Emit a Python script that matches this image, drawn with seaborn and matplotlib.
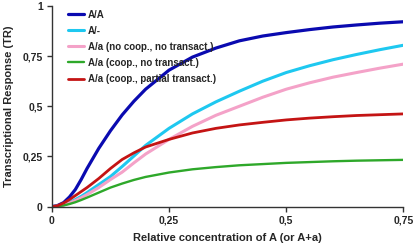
import matplotlib
matplotlib.use('Agg')
import matplotlib.pyplot as plt
from matplotlib.ticker import FixedLocator, FixedFormatter
import pandas as pd
import seaborn as sns

# Datos
# ------------------------

conc = [0, 0.0125, 0.025, 0.0375, 0.05, 0.0625, 0.075, 0.1, 0.125, 0.15, 0.175, 0.2, 0.25,
        0.3, 0.35, 0.4, 0.45, 0.5, 0.55, 0.6, 0.65, 0.7, 0.75]

tr_AA = [0, 0.006, 0.02, 0.048, 0.085, 0.135, 0.19, 0.29, 0.378, 0.457, 0.525, 0.585, 0.68,
         0.745, 0.79, 0.826, 0.85, 0.867, 0.882, 0.895, 0.905, 0.914, 0.921]
tr_Aminus = [0, 0.003, 0.01, 0.02, 0.035, 0.051, 0.07, 0.11, 0.15, 0.2, 0.252, 0.305, 0.39,
             0.462, 0.522, 0.575, 0.625, 0.668, 0.702, 0.732, 0.758, 0.782, 0.804]
tr_Aa_nocoop = [0, 0.002, 0.008, 0.018, 0.03, 0.044, 0.06, 0.095, 0.135, 0.172, 0.218, 0.262, 0.335,
                0.4, 0.455, 0.5, 0.545, 0.585, 0.617, 0.645, 0.668, 0.69, 0.71]
tr_Aa_coop = [0, 0.002, 0.006, 0.013, 0.022, 0.033, 0.045, 0.07, 0.095, 0.115, 0.133, 0.148, 0.17,
              0.186, 0.197, 0.206, 0.212, 0.218, 0.222, 0.226, 0.229, 0.231, 0.233]
tr_Aa_partial = [0, 0.005, 0.018, 0.035, 0.055, 0.075, 0.095, 0.14, 0.19, 0.235, 0.268, 0.297, 0.335,
                 0.367, 0.39, 0.407, 0.42, 0.432, 0.441, 0.448, 0.454, 0.458, 0.462]

etiquetas = ['A/A', 'A/-', 'A/a (no coop., no transact.)',
             'A/a (coop., no transact.)', 'A/a (coop., partial transact.)']
colores = ['#0a0ab0', '#1ec8f0', '#f4a2c8', '#2ea82a', '#c41414']
anchos = [2.3, 2.2, 2.2, 1.7, 2.0]

ticks_x = [0, 0.25, 0.5, 0.75]
ticks_x_txt = ['0', '0,25', '0,5', '0,75']
ticks_y = [0, 0.25, 0.5, 0.75, 1]
ticks_y_txt = ['0', '0,25', '0,5', '0,75', '1']

#%% GRAFICO
# = = = = =

sns.set_style('ticks')
plt.rcParams['font.family'] = ['Liberation Sans', 'DejaVu Sans']
plt.rcParams['font.weight'] = 'bold'

fig = plt.figure(figsize=(4.15, 2.46), dpi=100)
ax = fig.add_axes([0.125, 0.16, 0.847, 0.816])

series = [tr_AA, tr_Aminus, tr_Aa_nocoop, tr_Aa_coop, tr_Aa_partial]
for valores, lab, col, lw in zip(series, etiquetas, colores, anchos):
    df = pd.DataFrame({'x': conc, 'y': valores})
    sns.lineplot(data=df, x='x', y='y', color=col, lw=lw, label=lab, ax=ax)

ax.set_xlim(0, 0.75)
ax.set_ylim(0, 1)
ax.xaxis.set_major_locator(FixedLocator(ticks_x))
ax.xaxis.set_major_formatter(FixedFormatter(ticks_x_txt))
ax.yaxis.set_major_locator(FixedLocator(ticks_y))
ax.yaxis.set_major_formatter(FixedFormatter(ticks_y_txt))
ax.tick_params(labelsize=7.5, length=3.5, width=1, color='#333333', pad=3)

for s in ['left', 'bottom']:
    ax.spines[s].set_color('#333333')
    ax.spines[s].set_linewidth(1)
sns.despine(ax=ax)

ax.set_xlabel('Relative concentration of A (or A+a)', fontsize=8, fontweight='bold', labelpad=5)
ax.set_ylabel('Transcriptional Response (TR)', fontsize=8, fontweight='bold', labelpad=6)

ax.legend(loc='upper left', bbox_to_anchor=(0.035, 1.0), frameon=False,
          fontsize=7, handlelength=1.6, handletextpad=0.45, labelspacing=0.62,
          borderaxespad=0)

fig.savefig('out.png', dpi=100)
